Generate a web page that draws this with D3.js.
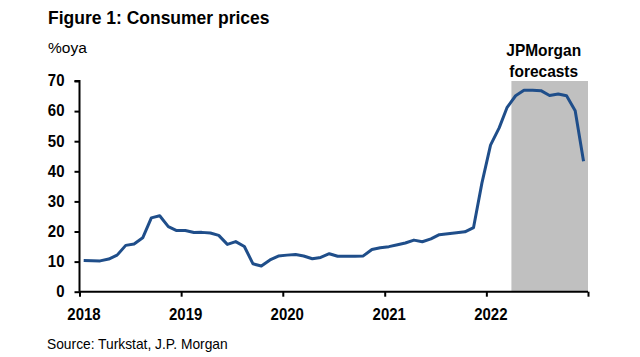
<!DOCTYPE html>
<html>
<head>
<meta charset="utf-8">
<script src="https://cdn.jsdelivr.net/npm/d3@7"></script>
<style>
  html, body { margin: 0; padding: 0; background: #fff; }
  svg { display: block; }
  text { font-family: Arial, "Liberation Sans", sans-serif; fill: #000; }
</style>
</head>
<body>
<svg id="chart" width="640" height="357"></svg>
<script>
// ---- Data (monthly CPI, %oya, Jan 2018 .. Dec 2022) ----
const startMonth = "2018-01";
const cpi = [
  10.35, 10.26, 10.23, 10.85, 12.15, 15.39, 15.85, 17.90, 24.52, 25.24, 21.62, 20.30,
  20.35, 19.67, 19.71, 19.50, 18.71, 15.72, 16.65, 15.01, 9.26, 8.55, 10.56, 11.84,
  12.15, 12.37, 11.86, 10.94, 11.39, 12.62, 11.76, 11.77, 11.75, 11.89, 14.03, 14.60,
  14.97, 15.61, 16.19, 17.14, 16.59, 17.53, 18.95, 19.25, 19.58, 19.89, 21.31, 36.08,
  48.69, 54.44, 61.14, 65.10, 66.90, 66.90, 66.80, 65.20, 65.70, 65.10, 60.10, 43.30
];
const yTicks = [0, 10, 20, 30, 40, 50, 60, 70];
const xTickYears = [2018, 2019, 2020, 2021, 2022, 2023];
const xTickLabels = ["2018", "2019", "2020", "2021", "2022", ""];
const forecastStart = "2022-04-01";
const forecastEnd = "2023-01-01";
const titleText = "Figure 1: Consumer prices";
const unitText = "%oya";
const forecastLabel = ["JPMorgan", "forecasts"];
const sourceText = "Source: Turkstat, J.P. Morgan";

(function () {
// ---- Layout ----
const svg = d3.select("#chart");
const pLeft = 79.5, pRight = 588, pTop = 81, pBottom = 291.7;
const parse = d3.timeParse("%Y-%m-%d");
const start = d3.timeParse("%Y-%m")(startMonth);
const dates = cpi.map((v, i) => d3.timeDay.offset(d3.timeMonth.offset(start, i), 15));

const x = d3.scaleTime()
  .domain([new Date(xTickYears[0], 0, 1), new Date(xTickYears[xTickYears.length - 1], 0, 1)])
  .range([pLeft, pRight]);
const y = d3.scaleLinear().domain([0, 70]).range([pBottom, pTop]);

const stretch = "scale(1,1.1)";

// forecast shading
svg.append("rect")
  .attr("x", x(parse(forecastStart)))
  .attr("y", y(70))
  .attr("width", x(parse(forecastEnd)) - x(parse(forecastStart)))
  .attr("height", y(0) - y(70))
  .attr("fill", "#c0c0c0");

// line
const line = d3.line()
  .x((d, i) => x(dates[i]))
  .y(d => y(d));
svg.append("path")
  .datum(cpi)
  .attr("d", line)
  .attr("fill", "none")
  .attr("stroke", "#1f4e8a")
  .attr("stroke-width", 3)
  .attr("stroke-linejoin", "round");

// y axis
const yAxis = d3.axisLeft(y).tickValues(yTicks).tickSize(5).tickPadding(10);
const gy = svg.append("g").attr("transform", `translate(${pLeft},0)`).call(yAxis);
gy.select(".domain").attr("stroke", "#000").attr("stroke-width", 2).attr("d", `M-5,${pTop}H0V${pBottom}`);
gy.selectAll(".tick line").attr("stroke", "#000").attr("stroke-width", 2);
gy.selectAll(".tick text")
  .attr("font-size", 15).attr("font-weight", "bold")
  .attr("font-family", "Arial, 'Liberation Sans', sans-serif")
  .attr("fill", "#000")
  .attr("transform", "scale(1,1.08)")
  .attr("dy", "0.3em");

// x axis
const xAxis = d3.axisBottom(x)
  .tickValues(xTickYears.map(yr => new Date(yr, 0, 1)))
  .tickFormat((d, i) => xTickLabels[i])
  .tickSize(5).tickPadding(10);
const gx = svg.append("g").attr("transform", `translate(0,${pBottom})`).call(xAxis);
gx.select(".domain").attr("stroke", "#000").attr("stroke-width", 2).attr("d", `M${pLeft},0H${pRight}`);
gx.selectAll(".tick line").attr("stroke", "#000").attr("stroke-width", 2);
gx.selectAll(".tick text")
  .attr("font-size", 15).attr("font-weight", "bold")
  .attr("font-family", "Arial, 'Liberation Sans', sans-serif")
  .attr("fill", "#000")
  .attr("transform", "scale(1,1.1)")
  .attr("dx", 4);

// title
svg.append("text").attr("transform", `translate(48,24) ${stretch}`)
  .attr("font-size", 17.5).attr("font-weight", "bold").text(titleText);
svg.append("text").attr("transform", `translate(48,53)`)
  .attr("font-size", 15.5).text(unitText);

// forecast label
const fx = (x(parse(forecastStart)) + x(parse(forecastEnd))) / 2 - 6;
svg.append("text").attr("transform", `translate(${fx},56) ${stretch}`)
  .attr("text-anchor", "middle").attr("font-size", 15.5).attr("font-weight", "bold")
  .text(forecastLabel[0]);
svg.append("text").attr("transform", `translate(${fx},76.5) ${stretch}`)
  .attr("text-anchor", "middle").attr("font-size", 15.5).attr("font-weight", "bold")
  .text(forecastLabel[1]);

// source
svg.append("text").attr("transform", `translate(47,349) ${stretch}`)
  .attr("font-size", 13.8).text(sourceText);
})();
</script>
</body>
</html>
